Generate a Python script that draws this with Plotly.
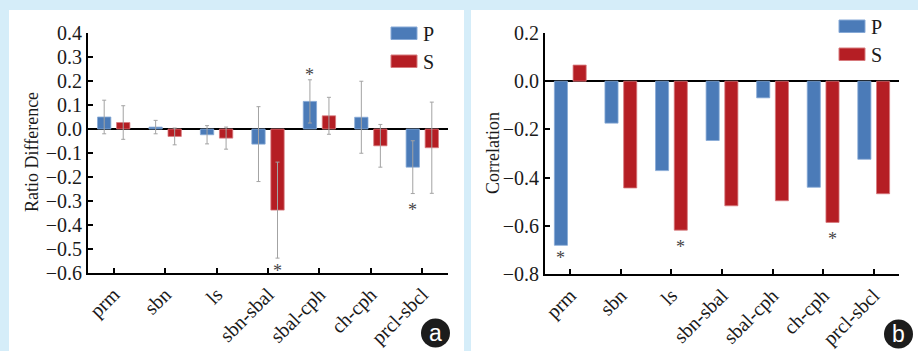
import plotly.graph_objects as go

# ---------------- data ----------------
categories = ["prm", "sbn", "ls", "sbn-sbal", "sbal-cph", "ch-cph", "prcl-sbcl"]

ratio_p = [0.050, 0.008, -0.024, -0.063, 0.115, 0.049, -0.159]
ratio_p_err = [0.070, 0.028, 0.038, 0.156, 0.090, 0.150, 0.110]
ratio_s = [0.027, -0.031, -0.038, -0.338, 0.055, -0.070, -0.078]
ratio_s_err = [0.070, 0.035, 0.046, 0.200, 0.077, 0.089, 0.190]

corr_p = [-0.681, -0.174, -0.371, -0.246, -0.069, -0.440, -0.324]
corr_s = [0.067, -0.443, -0.618, -0.517, -0.496, -0.586, -0.467]

ratio_ticks = [0.4, 0.3, 0.2, 0.1, 0.0, -0.1, -0.2, -0.3, -0.4, -0.5, -0.6]
corr_ticks = [0.2, 0.0, -0.2, -0.4, -0.6, -0.8]

# significance markers (category, series, y position)
ratio_stars = [("sbn-sbal", "S", -0.575), ("sbal-cph", "P", 0.240), ("prcl-sbcl", "P", -0.320)]
corr_stars = [("prm", "P", -0.718), ("ls", "S", -0.672), ("ch-cph", "S", -0.639)]

series_names = ["P", "S"]
# ---------------- style ----------------
W, H = 918, 351
BLUE = "#4b7bb8"
RED = "#b51e24"
BLUE_EDGE = "#86a9d6"
RED_EDGE = "#d77a7d"
BG = "#d5edf9"
SERIF = "Liberation Serif"
ERR_COL = "#a3a3a3"
TXT = "#1a1a1a"


def px(x):
    return x / W


def py(y):
    return 1 - y / H


fig = go.Figure()

err_kw = dict(type="data", color=ERR_COL, thickness=1, width=2, visible=True)

fig.add_trace(go.Bar(x=categories, y=ratio_p, name="P", marker=dict(color=BLUE, line=dict(color=BLUE_EDGE, width=0.8)),
                     error_y=dict(array=ratio_p_err, **err_kw), xaxis="x", yaxis="y", showlegend=False))
fig.add_trace(go.Bar(x=categories, y=ratio_s, name="S", marker=dict(color=RED, line=dict(color=RED_EDGE, width=0.8)),
                     error_y=dict(array=ratio_s_err, **err_kw), xaxis="x", yaxis="y", showlegend=False))
fig.add_trace(go.Bar(x=categories, y=corr_p, name="P", marker=dict(color=BLUE, line=dict(color=BLUE_EDGE, width=0.8)),
                     xaxis="x2", yaxis="y2", showlegend=False))
fig.add_trace(go.Bar(x=categories, y=corr_s, name="S", marker=dict(color=RED, line=dict(color=RED_EDGE, width=0.8)),
                     xaxis="x2", yaxis="y2", showlegend=False))

ax_common = dict(showline=True, linecolor="black", linewidth=2, ticks="inside", ticklen=5, tickwidth=2,
                 tickcolor="black", showgrid=False, automargin=False)
yfont = dict(family=SERIF, size=20, color=TXT)
xfont = dict(family=SERIF, size=20, color=TXT)

fig.update_layout(
    width=W, height=H, autosize=False,
    margin=dict(l=0, r=0, t=0, b=0, pad=0),
    paper_bgcolor=BG, plot_bgcolor="rgba(0,0,0,0)",
    barmode="group", bargap=0.26, bargroupgap=0.3,
    showlegend=False, hovermode=False,
    xaxis=dict(domain=[px(88), px(448)], anchor="y", range=[-0.5, 6.5], tickangle=-45, tickfont=xfont, **ax_common),
    yaxis=dict(domain=[py(273), py(33)], anchor="x", range=[-0.6, 0.4], tickvals=ratio_ticks, tickfont=yfont,
               tickformat=".1f", zeroline=True, zerolinecolor="black", zerolinewidth=2, **ax_common),
    xaxis2=dict(domain=[px(545), px(899)], anchor="y2", range=[-0.5, 6.5], tickangle=-45, tickfont=xfont,
                **ax_common),
    yaxis2=dict(domain=[py(274), py(33)], anchor="x2", range=[-0.8, 0.2], tickvals=corr_ticks, tickfont=yfont,
                tickformat=".1f", zeroline=True, zerolinecolor="black", zerolinewidth=2, **ax_common),
)

shapes = []
# white panels
shapes.append(dict(type="rect", xref="paper", yref="paper", x0=px(9), x1=px(464), y0=0, y1=py(10),
                   fillcolor="white", line=dict(width=0), layer="below"))
shapes.append(dict(type="rect", xref="paper", yref="paper", x0=px(471), x1=1, y0=0, y1=py(10),
                   fillcolor="white", line=dict(width=0), layer="below"))

annotations = []
# manual legends
for lx, ly0 in [(391, 27), (839, 20)]:
    for k, (name, col, edge) in enumerate(zip(series_names, [BLUE, RED], [BLUE_EDGE, RED_EDGE])):
        y0 = ly0 + 28 * k
        shapes.append(dict(type="rect", xref="paper", yref="paper", x0=px(lx), x1=px(lx + 26),
                           y0=py(y0 + 12.5), y1=py(y0), fillcolor=col, line=dict(color=edge, width=1)))
        annotations.append(dict(xref="paper", yref="paper", x=px(lx + 30), y=py(y0 + 6.5), text=name,
                                showarrow=False, xanchor="left", yanchor="middle",
                                font=dict(family=SERIF, size=20, color=TXT)))

# axis titles
annotations.append(dict(xref="paper", yref="paper", x=px(32), y=py(152), text="Ratio Difference", textangle=-90,
                        showarrow=False, xanchor="center", yanchor="middle",
                        font=dict(family=SERIF, size=18, color=TXT)))
annotations.append(dict(xref="paper", yref="paper", x=px(493), y=py(153), text="Correlation", textangle=-90,
                        showarrow=False, xanchor="center", yanchor="middle",
                        font=dict(family=SERIF, size=18, color=TXT)))

# significance stars
for stars, xr, yr in [(ratio_stars, "x", "y"), (corr_stars, "x2", "y2")]:
    for cat, ser, yv in stars:
        annotations.append(dict(xref=xr, yref=yr, x=cat, y=yv, text="*", showarrow=False,
                                xshift=-9.5 if ser == "P" else 9.5, yshift=-4,
                                font=dict(family=SERIF, size=18, color="#444444")))

# panel badges
for cx, cy, letter in [(435.5, 333, "a"), (898.5, 334, "b")]:
    r = 14.5
    shapes.append(dict(type="circle", xref="paper", yref="paper", x0=px(cx - r), x1=px(cx + r),
                       y0=py(cy + r), y1=py(cy - r), fillcolor="#1c1c1c", line=dict(width=0)))
    annotations.append(dict(xref="paper", yref="paper", x=px(cx), y=py(cy), text=letter, showarrow=False,
                            xanchor="center", yanchor="middle",
                            font=dict(family="Liberation Sans", size=23, color="white")))

fig.update_layout(shapes=shapes, annotations=annotations)
fig.write_html("out.html", config={"displayModeBar": False, "staticPlot": True},
               post_script="document.body.style.margin='0';document.body.style.padding='0';")
